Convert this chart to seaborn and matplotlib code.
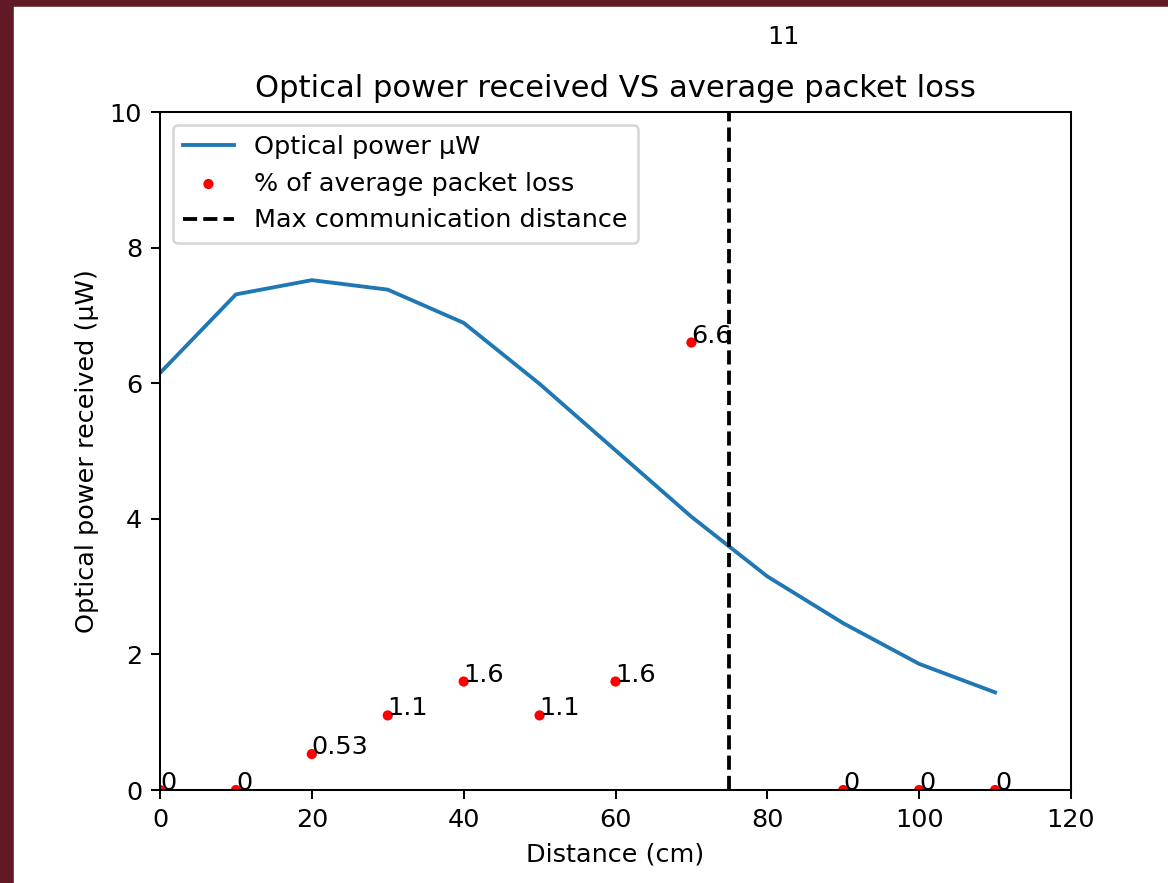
import matplotlib
matplotlib.use("Agg")
import matplotlib.pyplot as plt
import seaborn as sns
from matplotlib.patches import Rectangle

# distance (cm) vs received optical power (uW)
distance = [0, 10, 20, 30, 40, 50, 60, 70, 80, 90, 100, 110]
power_uw = [6.15, 7.31, 7.52, 7.38, 6.89, 5.99, 5.01, 4.03, 3.15, 2.46, 1.86, 1.44]

# average packet loss (%) measured at the same distances
loss_pct = [0, 0, 0.53, 1.1, 1.6, 1.1, 1.6, 6.6, 11, 0, 0, 0]
loss_labels = ["0", "0", "0.53", "1.1", "1.6", "1.1", "1.6", "6.6", "11", "0", "0", "0"]

max_dist = 75

DPI = 183.5
fig = plt.figure(figsize=(1168 / DPI, 883 / DPI), dpi=DPI)

# screenshot border (top and left)
border = "#611a25"
fig.patches.append(Rectangle((0, 1 - 5 / 883), 1, 5 / 883, transform=fig.transFigure,
                             color=border, zorder=0))
fig.patches.append(Rectangle((0, 0), 12 / 1168, 1, transform=fig.transFigure,
                             color=border, zorder=0))

ax = fig.add_axes([160 / 1168, 1 - 790 / 883, (1071 - 160) / 1168, (790 - 112) / 883])

sns.lineplot(x=distance, y=power_uw, ax=ax, color="#1f77b4", label="Optical power µW")
sns.scatterplot(x=distance, y=loss_pct, ax=ax, color="red", s=16, edgecolor="none",
                label="% of average packet loss")
for xd, yv, lab in zip(distance, loss_pct, loss_labels):
    ax.text(xd, yv, lab, fontsize=10, clip_on=False)

ax.axvline(max_dist, color="black", linestyle="--", label="Max communication distance")

ax.set_xlim(0, 120)
ax.set_ylim(0, 10)
ax.set_title("Optical power received VS average packet loss")
ax.set_xlabel("Distance (cm)")
ax.set_ylabel("Optical power received (µW)")
ax.legend(loc="upper left")

fig.savefig("out.png", dpi=DPI)
